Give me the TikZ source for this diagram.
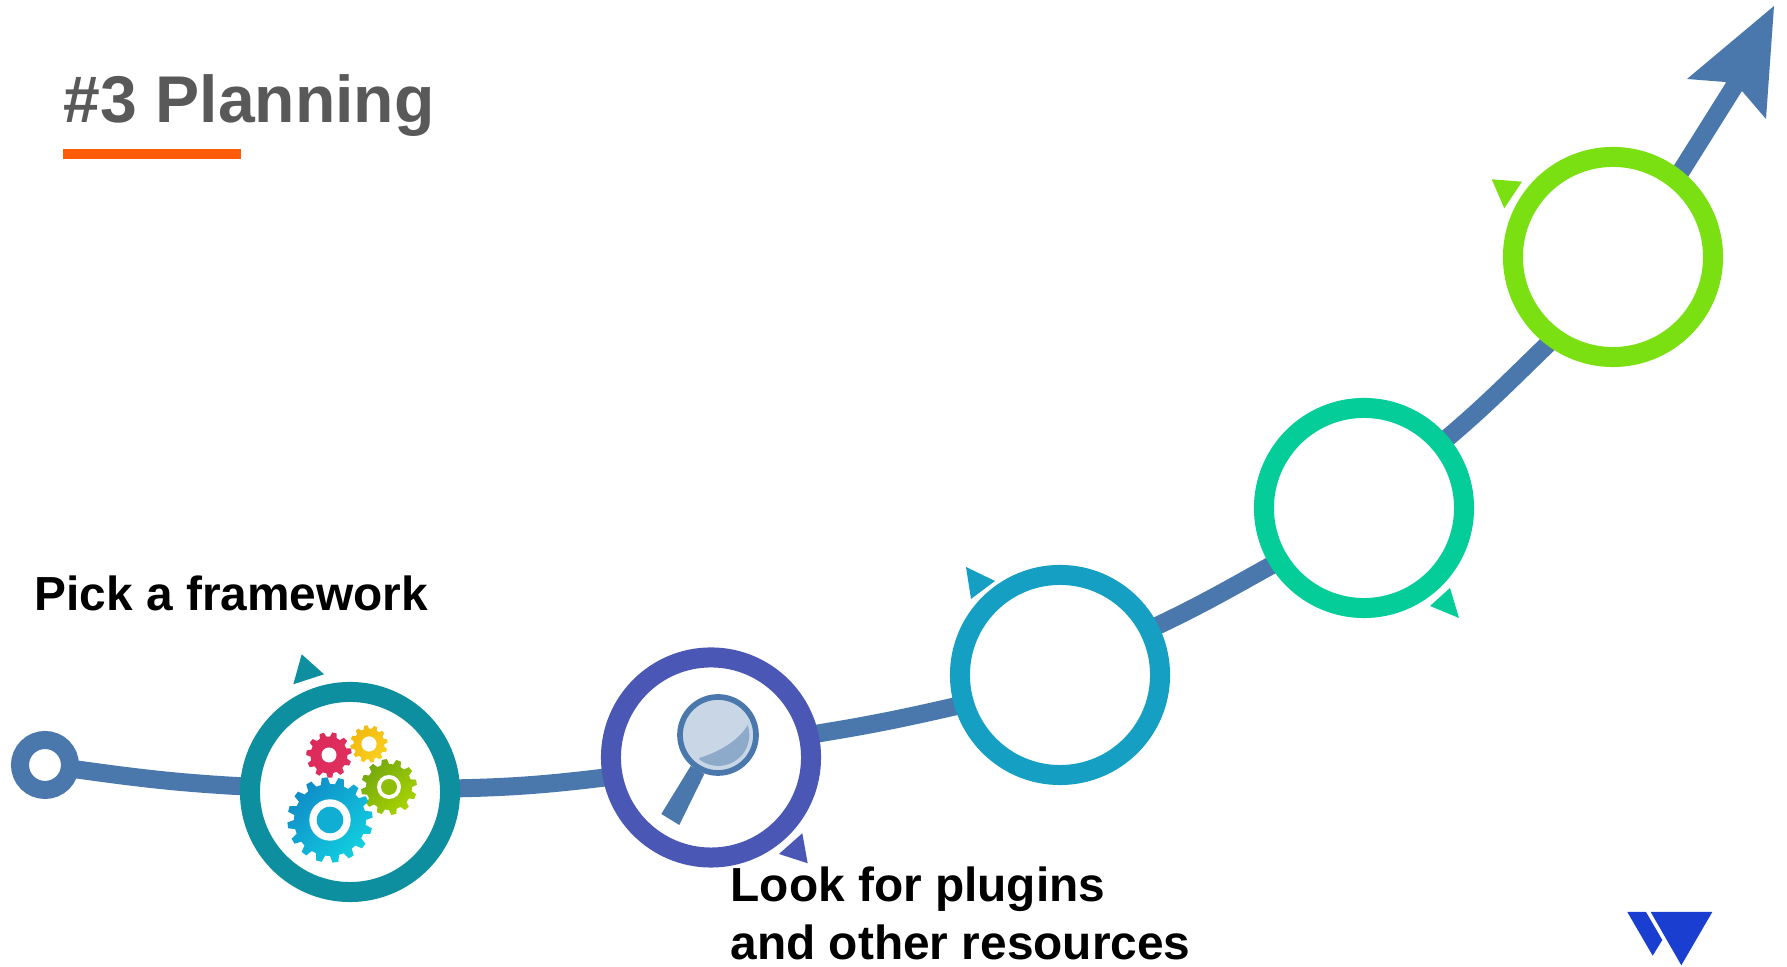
\documentclass[tikz,border=0pt]{standalone}
\usepackage{fontspec}
\setmainfont{Liberation Sans}
\usetikzlibrary{backgrounds}
\definecolor{trackblue}{HTML}{4A78AD}
\definecolor{titlegray}{HTML}{595959}
\definecolor{titleorange}{HTML}{FF5C0A}
\definecolor{ringteal}{HTML}{0E8FA0}
\definecolor{ringindigo}{HTML}{4B57B5}
\definecolor{ringcyan}{HTML}{149FC3}
\definecolor{ringmint}{HTML}{04CD9A}
\definecolor{ringlime}{HTML}{7BE012}
\definecolor{logoblue}{HTML}{1A3FD0}
\definecolor{lenslight}{HTML}{C8D6E5}
\definecolor{lensdark}{HTML}{8EAACB}
\begin{document}
\begin{tikzpicture}[x=0.01cm,y=0.01cm,
  ring/.style={circle,draw=#1,fill=white,line width=0.2cm,minimum size=2cm,inner sep=0pt,outer sep=0pt},
  track/.style={draw=trackblue,line width=0.18cm},
  steplabel/.style={inner sep=0pt,font=\bfseries\fontsize{13.6}{16.5}\selectfont}]
  \useasboundingbox (0,0) rectangle (1787,967);

  \node (title) at (63,844)[anchor=base west,inner sep=0pt,text=titlegray,font=\bfseries\fontsize{18.8}{22}\selectfont]{\#3 Planning};
  \fill[titleorange] (63,808) rectangle (241,818);

  \node (start) at (45,202)[circle,draw=trackblue,fill=white,line width=0.18cm,minimum size=0.5cm,inner sep=0pt,outer sep=0pt]{};
  \node (r1) at (350,175)[ring=ringteal]{};
  \node (r2) at (711,209.5)[ring=ringindigo]{};
  \node (r3) at (1060,292)[ring=ringcyan]{};
  \node (r4) at (1364,459)[ring=ringmint]{};
  \node (r5) at (1613,710)[ring=ringlime]{};
  \coordinate (shaft) at (1737,885);

  \begin{scope}[on background layer]
    \draw[track](start) to[out=-8,in=177] (r1);
    \draw[track](r1.2) to[out=1,in=187] (r2.191);
    \draw[track](r2.13) to[out=9,in=193] (r3.197);
    \draw[track](r3.27) to[out=25,in=209] (r4.212);
    \draw[track](r4.40) to[out=40,in=224] (r5.234);
    \draw[track](r5.51)--(shaft);
  \end{scope}
  \fill[trackblue] (1774,961)--(1687,888)--(1725,885)--(1742,876)--(1766,848)--cycle;

  \fill[ringteal] (301.7,312.7)--(324,292.7)--(293.3,282.7)--cycle;
  \fill[ringindigo] (802.3,133.7)--(807.7,103.7)--(779,113)--cycle;
  \fill[ringcyan] (966,400)--(995,386)--(971,368)--cycle;
  \fill[ringmint] (1450,379)--(1459,349)--(1430,361)--cycle;
  \fill[ringlime] (1491.7,787.7)--(1522,785.3)--(1504.3,758.7)--cycle;

  \foreach \gx/\gy/\gteeth/\gouter/\groot/\gring/\gcore/\gcola/\gcolb in {
    329/212/11/22.8/18.5/7.5/0/DC2A5A/E0305F,
    369/223/12/18.7/15.5/7.6/0/F2B90F/F8D020,
    389/180/12/28/23/12/8/74A80F/A8D400,
    330/147/16/42.7/36/20.7/13.3/0F8CC8/12D0E0}{
    \definecolor{gearlow}{HTML}{\gcola}
    \definecolor{gearhigh}{HTML}{\gcolb}
    \shade[shift={(\gx,\gy)},left color=gearlow,right color=gearhigh,shading angle=45]
      (0:\groot) \foreach \k in {1,...,\gteeth}{
        --({(\k-1+0.0)*360/\gteeth}:\groot)
        --({(\k-1+0.15)*360/\gteeth}:\gouter)
        --({(\k-1+0.5)*360/\gteeth}:\gouter)
        --({(\k-1+0.65)*360/\gteeth}:\groot)
      }--cycle;
    \fill[white] (\gx,\gy) circle (\gring);
    \fill[gearlow!50!gearhigh] (\gx,\gy) circle (\gcore);
  }

  \fill[trackblue] (690.7,201)--(704.3,193)--(679.3,142)--(661.3,153)--cycle;
  \draw[trackblue,fill=lenslight,line width=0.057cm] (718,232) circle (38);
  \fill[lensdark] (700,209.3) .. controls (720,215) and (740,228) .. (747.7,242) arc[start angle=18.6,end angle=-128.4,radius=31] --cycle;

  \node (framework) at (34,356)[anchor=base west,steplabel]{Pick a framework};
  \node (plugins) at (730,101)[anchor=north west,align=left,steplabel]{Look for plugins\\and other resources};

  \fill[logoblue] (1627.3,55)--(1646,55)--(1662.3,27)--(1652.7,11.3)--cycle;
  \fill[logoblue] (1650.7,55)--(1712.3,55)--(1681.3,1.7)--cycle;
\end{tikzpicture}
\end{document}
